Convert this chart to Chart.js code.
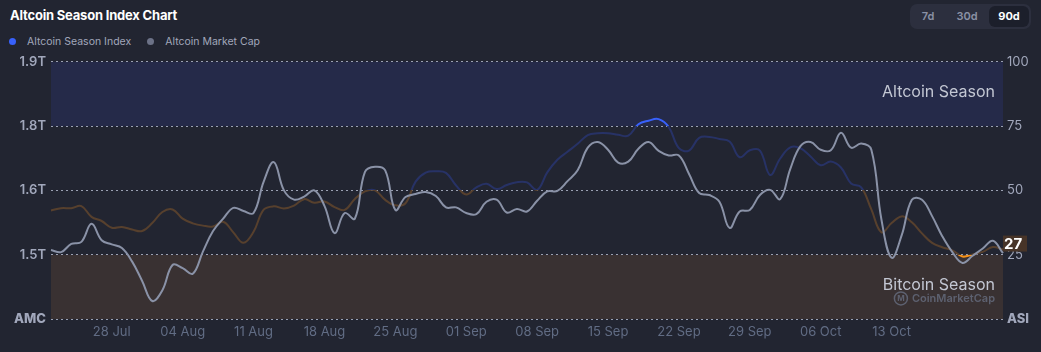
<!DOCTYPE html>
<html>
<head>
<meta charset="utf-8">
<script src="https://cdn.jsdelivr.net/npm/chart.js@4"></script>
<style>
  html, body { margin: 0; padding: 0; background: #222531; width: 1041px; height: 352px; overflow: hidden; font-family: Inter, "Noto Sans", sans-serif; }
  #title { position: absolute; left: 10px; top: 7px; color: #fff; font-size: 13px; font-weight: 700; letter-spacing: -0.2px; }
  #legend { position: absolute; left: 9px; top: 35px; font-size: 10.5px; color: #a1a7bb; }
  #legend span.item { margin-right: 16px; }
  #legend i { display: inline-block; width: 7px; height: 7px; border-radius: 50%; margin: 0 11px 0 0; vertical-align: 0px; }
  #range { position: absolute; left: 910px; top: 4px; width: 121px; height: 25px; background: #2c2f3e; border-radius: 7px; font-size: 11px; font-weight: 600; color: #8a91a5; }
  #range span { position: absolute; top: 2px; height: 21px; line-height: 21px; text-align: center; }
  #range span.on { background: #1c1f2b; color: #fff; font-weight: 700; border-radius: 6px; }
  #wrap { position: absolute; left: 0; top: 56px; width: 1041px; height: 296px; overflow: hidden; }
  #inner { position: absolute; left: 0; top: -7px; width: 1041px; height: 303px; }
</style>
</head>
<body>
<div id="title">Altcoin Season Index Chart</div>
<div id="legend"><span class="item"><i style="background:#3861fb"></i>Altcoin Season Index</span><span class="item"><i style="background:#6c7287"></i>Altcoin Market Cap</span></div>
<div id="range"><span style="left:6px;width:24px">7d</span><span style="left:40px;width:34px">30d</span><span class="on" style="left:79px;width:40px">90d</span></div>
<div id="wrap"><div id="inner"><canvas id="chart"></canvas></div></div>
<script>
// days shown on the 90d view
const categories = [
  '22 Jul', '23 Jul', '24 Jul', '25 Jul', '26 Jul', '27 Jul', '28 Jul', '29 Jul', '30 Jul', '31 Jul',
  '01 Aug', '02 Aug', '03 Aug', '04 Aug', '05 Aug', '06 Aug', '07 Aug', '08 Aug', '09 Aug', '10 Aug',
  '11 Aug', '12 Aug', '13 Aug', '14 Aug', '15 Aug', '16 Aug', '17 Aug', '18 Aug', '19 Aug', '20 Aug',
  '21 Aug', '22 Aug', '23 Aug', '24 Aug', '25 Aug', '26 Aug', '27 Aug', '28 Aug', '29 Aug', '30 Aug',
  '31 Aug', '01 Sep', '02 Sep', '03 Sep', '04 Sep', '05 Sep', '06 Sep', '07 Sep', '08 Sep', '09 Sep',
  '10 Sep', '11 Sep', '12 Sep', '13 Sep', '14 Sep', '15 Sep', '16 Sep', '17 Sep', '18 Sep', '19 Sep',
  '20 Sep', '21 Sep', '22 Sep', '23 Sep', '24 Sep', '25 Sep', '26 Sep', '27 Sep', '28 Sep', '29 Sep',
  '30 Sep', '01 Oct', '02 Oct', '03 Oct', '04 Oct', '05 Oct', '06 Oct', '07 Oct', '08 Oct', '09 Oct',
  '10 Oct', '11 Oct', '12 Oct', '13 Oct', '14 Oct', '15 Oct', '16 Oct', '17 Oct', '18 Oct', '19 Oct',
  '20 Oct', '21 Oct', '22 Oct', '23 Oct', '24 Oct'
];

const xTickLabels = ['28 Jul', '04 Aug', '11 Aug', '18 Aug', '25 Aug', '01 Sep', '08 Sep', '15 Sep', '22 Sep', '29 Sep', '06 Oct', '13 Oct'];

// Altcoin Season Index (0-100)
const asiValues = [
  42.2, 43.1, 43.1, 43.9, 39.7, 38.1, 35.5, 35.8, 34.8, 34.2,
  37.3, 41.6, 42.6, 39.0, 37.2, 36.3, 36.0, 37.8, 33.7, 29.6,
  33.9, 42.5, 43.8, 43.0, 44.1, 46.6, 45.2, 45.7, 43.5, 42.4,
  46.7, 49.6, 50.0, 46.3, 44.2, 45.0, 53.4, 56.9, 57.4, 56.8,
  51.9, 48.4, 51.2, 52.6, 50.5, 52.1, 53.2, 53.1, 50.2, 57.0,
  61.9, 65.0, 68.1, 71.5, 72.2, 72.2, 71.6, 71.3, 75.7, 77.1,
  77.7, 74.6, 66.4, 65.5, 70.4, 70.8, 70.0, 69.0, 62.9, 65.6,
  65.5, 56.0, 62.4, 66.7, 66.4, 63.2, 59.8, 61.2, 58.9, 52.7,
  51.2, 42.6, 33.7, 37.3, 39.9, 37.6, 33.3, 29.6, 27.9, 26.7,
  24.3, 25.1, 26.1, 28.0, 27
];

// Altcoin market cap, trillions USD
const marketCapValues = [
  1.519, 1.515, 1.531, 1.535, 1.570, 1.538, 1.530, 1.523, 1.497, 1.459,
  1.420, 1.441, 1.490, 1.484, 1.473, 1.516, 1.556, 1.580, 1.601, 1.595,
  1.591, 1.652, 1.690, 1.635, 1.617, 1.623, 1.635, 1.605, 1.552, 1.591,
  1.580, 1.671, 1.681, 1.674, 1.597, 1.622, 1.628, 1.632, 1.624, 1.602,
  1.602, 1.591, 1.589, 1.613, 1.617, 1.592, 1.599, 1.594, 1.615, 1.633,
  1.634, 1.653, 1.674, 1.718, 1.729, 1.714, 1.689, 1.691, 1.716, 1.729,
  1.712, 1.703, 1.703, 1.667, 1.630, 1.626, 1.613, 1.562, 1.594, 1.597,
  1.626, 1.636, 1.618, 1.677, 1.721, 1.729, 1.714, 1.713, 1.747, 1.718,
  1.726, 1.714, 1.578, 1.504, 1.548, 1.617, 1.617, 1.585, 1.546, 1.515,
  1.494, 1.508, 1.522, 1.537, 1.513
];

const capMin = 1.385;
const capMax = 1.885;
const capStep = 0.125;

const GRID = '#9aa0b2';
const TICK = '#a1a7bb';

function asiColor(context) {
  const chart = context.chart;
  const area = chart.chartArea;
  if (!area) return '#3861fb';
  const y = chart.scales.asi;
  const g = chart.ctx.createLinearGradient(0, y.getPixelForValue(100), 0, y.getPixelForValue(0));
  g.addColorStop(0, '#3861fb');
  g.addColorStop(0.25, '#3861fb');
  g.addColorStop(0.25, '#273266');
  g.addColorStop(0.5, '#273266');
  g.addColorStop(0.5, '#57402d');
  g.addColorStop(0.75, '#57402d');
  g.addColorStop(0.75, '#f7931a');
  g.addColorStop(1, '#f7931a');
  return g;
}

const seasonBands = {
  id: 'seasonBands',
  beforeDraw(chart) {
    const { ctx, chartArea: a, scales } = chart;
    const y = scales.asi;
    ctx.save();
    ctx.fillStyle = '#252a49';
    ctx.fillRect(a.left, y.getPixelForValue(100), a.width, y.getPixelForValue(75) - y.getPixelForValue(100));
    ctx.fillStyle = '#393132';
    ctx.fillRect(a.left, y.getPixelForValue(25), a.width, y.getPixelForValue(0) - y.getPixelForValue(25));
    ctx.restore();
  },
  afterDatasetsDraw(chart) {
    const { ctx, chartArea: a, scales } = chart;
    const y = scales.asi;
    ctx.save();
    ctx.textAlign = 'right';
    ctx.textBaseline = 'middle';
    ctx.fillStyle = '#c3c7d3';
    ctx.font = '16px Inter, sans-serif';
    ctx.fillText('Altcoin Season', a.right - 8, y.getPixelForValue(88.8) + 2);
    ctx.fillText('Bitcoin Season', a.right - 8, y.getPixelForValue(13));
    // watermark
    ctx.fillStyle = '#5d6170';
    ctx.strokeStyle = '#5d6170';
    ctx.font = '600 11px Inter, sans-serif';
    const wy = y.getPixelForValue(8);
    const tw = ctx.measureText('CoinMarketCap').width;
    ctx.fillText('CoinMarketCap', a.right - 8, wy);
    const lx = a.right - 8 - tw - 11;
    ctx.lineWidth = 1.5;
    ctx.beginPath();
    ctx.arc(lx, wy, 6.5, 0, Math.PI * 2);
    ctx.stroke();
    ctx.font = '700 8px Inter, sans-serif';
    ctx.textAlign = 'center';
    ctx.fillText('M', lx, wy + 0.5);
    ctx.restore();
  },
  afterDraw(chart) {
    const { ctx, chartArea: a, scales } = chart;
    const last = asiValues[asiValues.length - 1];
    const py = scales.asi.getPixelForValue(last) - 6;
    ctx.save();
    ctx.fillStyle = '#473428';
    ctx.fillRect(a.right, py - 8, 24, 16);
    ctx.fillStyle = '#ffffff';
    ctx.font = '700 15px Inter, sans-serif';
    ctx.textAlign = 'left';
    ctx.textBaseline = 'middle';
    ctx.fillText(String(last), a.right + 1, py + 1);
    ctx.restore();
  }
};

new Chart(document.getElementById('chart'), {
  type: 'line',
  data: {
    labels: categories,
    datasets: [
      {
        label: 'Altcoin Market Cap',
        data: marketCapValues,
        yAxisID: 'cap',
        borderColor: '#8a92a7',
        borderWidth: 2,
        pointRadius: 0,
        tension: 0.4,
        fill: false
      },
      {
        label: 'Altcoin Season Index',
        data: asiValues,
        yAxisID: 'asi',
        borderColor: asiColor,
        borderWidth: 2,
        pointRadius: 0,
        tension: 0.4,
        fill: false
      }
    ]
  },
  options: {
    responsive: true,
    maintainAspectRatio: false,
    animation: false,
    layout: { padding: { top: 6, left: 0, right: 0, bottom: 0 } },
    plugins: { legend: { display: false }, tooltip: { enabled: false } },
    scales: {
      x: {
        grid: { display: false, drawTicks: false },
        border: { display: false },
        ticks: {
          autoSkip: false,
          maxRotation: 0,
          padding: 5,
          color: '#616c84',
          font: { family: 'Inter', size: 13 },
          callback: function (val) {
            const l = this.getLabelForValue(val);
            return xTickLabels.includes(l) ? l : '';
          }
        },
        afterFit: (s) => { s.height = 33; }
      },
      cap: {
        position: 'left',
        min: capMin,
        max: capMax,
        grid: { display: false, drawTicks: false },
        border: { display: false },
        ticks: {
          stepSize: capStep,
          padding: 5,
          color: TICK,
          font: (c) => ({ family: 'Inter', size: 13, weight: c.index === 0 ? '800' : '600' }),
          callback: (v) => Math.abs(v - capMin) < 1e-6 ? 'AMC' : v.toFixed(1) + 'T'
        },
        afterFit: (s) => { s.width = 51; }
      },
      asi: {
        position: 'right',
        min: 0,
        max: 100,
        grid: { color: GRID, lineWidth: 1, drawTicks: false },
        border: { display: true, color: 'rgba(0,0,0,0)', dash: [2, 3] },
        ticks: {
          stepSize: 25,
          padding: 4,
          color: TICK,
          font: (c) => ({ family: 'Inter', size: 13, weight: c.index === 0 ? '800' : '400' }),
          callback: (v) => v === 0 ? 'ASI' : v
        },
        afterFit: (s) => { s.width = 38; }
      }
    }
  },
  plugins: [seasonBands]
});
</script>
</body>
</html>
